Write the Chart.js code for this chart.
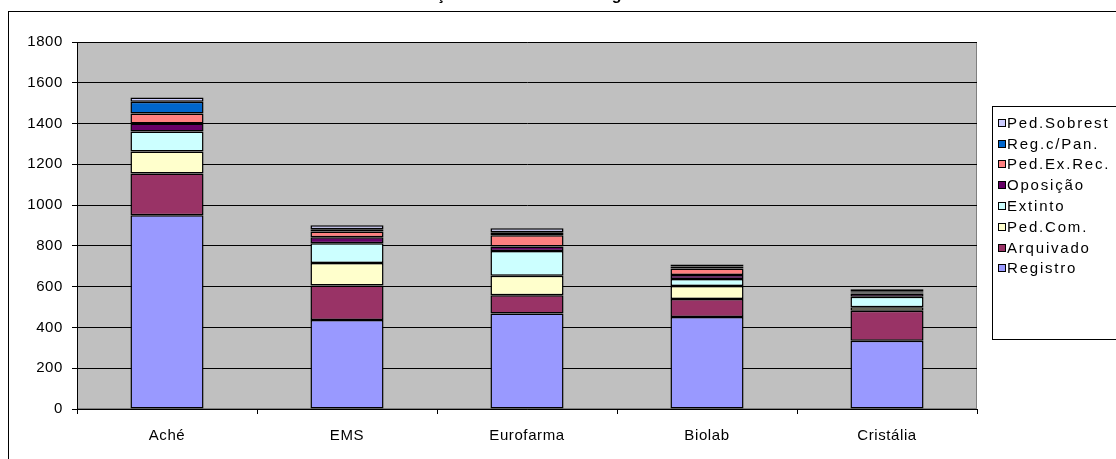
<!DOCTYPE html>
<html>
<head>
<meta charset="utf-8">
<script src="https://cdn.jsdelivr.net/npm/chart.js@4"></script>
<style>
  body { margin: 0; background: #fff; }
</style>
</head>
<body>
<canvas id="chart" width="1116" height="459"></canvas>
<script>
const titleText = 'Situação dos Pedidos de Registro';
const categories = ['Aché', 'EMS', 'Eurofarma', 'Biolab', 'Cristália'];
const registro   = [950, 437, 468, 451, 335];
const arquivado  = [205, 169, 90, 89, 147];
const pedCom     = [108, 110, 95, 63, 17];
const extinto    = [98, 97, 122, 35, 52];
const oposicao   = [39, 29, 22, 19, 15];
const pedExRec   = [49, 29, 55, 32, 5];
const regCPan    = [58, 10, 15, 10, 6];
const pedSobrest = [21, 20, 20, 10, 10];

const FONT = 'Arial, "Liberation Sans", sans-serif';

function series(label, data, color) {
    return {
        label: label,
        data: data,
        backgroundColor: color,
        borderColor: '#000',
        borderWidth: 1.5,
        borderSkipped: false,
        barPercentage: 0.406,
        categoryPercentage: 1
    };
}

// background, plot frame, title and legend box (Excel look)
const excelLook = {
    id: 'excelLook',
    beforeLayout(chart) {
        chart.ctx.letterSpacing = '0.6px';
    },
    beforeDraw(chart) {
        const { ctx, chartArea: a } = chart;
        ctx.save();
        ctx.fillStyle = '#fff';
        ctx.fillRect(0, 0, chart.width, chart.height);
        ctx.fillStyle = '#c0c0c0';
        ctx.fillRect(a.left, a.top, a.width, a.height);
        ctx.strokeStyle = '#808080';
        ctx.lineWidth = 1;
        ctx.strokeRect(a.left + 0.5, a.top + 0.5, a.width - 1, a.height - 1);
        ctx.strokeStyle = '#000';
        ctx.strokeRect(8.5, 11.5, 1300, 700);
        ctx.restore();
        ctx.letterSpacing = '0.6px';
    },
    afterDraw(chart) {
        const ctx = chart.ctx;
        ctx.save();
        // title (mostly cut off at the top edge)
        ctx.letterSpacing = '0px';
        ctx.font = 'bold 16px ' + FONT;
        ctx.fillStyle = '#000';
        ctx.textBaseline = 'alphabetic';
        ctx.textAlign = 'left';
        const pre = ctx.measureText('Situa').width;
        const cw = ctx.measureText('ç').width;
        ctx.fillText(titleText, 441 - pre - cw / 2, 0);

        // legend
        ctx.fillStyle = '#fff';
        ctx.fillRect(992.5, 106.5, 200, 233);
        ctx.strokeStyle = '#000';
        ctx.lineWidth = 1;
        ctx.strokeRect(992.5, 106.5, 200, 233);
        ctx.font = '15px ' + FONT;
        ctx.letterSpacing = '1.8px';
        ctx.textBaseline = 'middle';
        const ds = chart.data.datasets.slice().reverse();
        ds.forEach((d, i) => {
            const y = Math.round(122.7 + i * 20.8);
            ctx.fillStyle = d.backgroundColor;
            ctx.fillRect(998.5, y - 3.5, 7, 7);
            ctx.strokeStyle = '#000';
            ctx.strokeRect(998.5, y - 3.5, 7, 7);
            ctx.fillStyle = '#000';
            ctx.fillText(d.label, 1007, y + 1);
        });
        ctx.restore();
    }
};

const ctx = document.getElementById('chart').getContext('2d');
const chart = new Chart(ctx, {
    type: 'bar',
    data: {
        labels: categories,
        datasets: [
            series('Registro', registro, '#9999ff'),
            series('Arquivado', arquivado, '#993366'),
            series('Ped.Com.', pedCom, '#ffffcc'),
            series('Extinto', extinto, '#ccffff'),
            series('Oposição', oposicao, '#660066'),
            series('Ped.Ex.Rec.', pedExRec, '#ff8080'),
            series('Reg.c/Pan.', regCPan, '#0066cc'),
            series('Ped.Sobrest', pedSobrest, '#ccccff')
        ]
    },
    options: {
        responsive: false,
        animation: false,
        layout: { padding: { left: 8, right: 139, top: 42, bottom: 0 } },
        plugins: {
            legend: { display: false },
            title: { display: false },
            tooltip: { enabled: false }
        },
        scales: {
            x: {
                stacked: true,
                grid: { drawOnChartArea: false, drawTicks: true, tickLength: 5, tickColor: '#000', offset: true },
                border: { color: '#000' },
                ticks: { color: '#000', padding: 13, font: { family: FONT, size: 15 } },
                afterFit(scale) { scale.height = 50; }
            },
            y: {
                stacked: true,
                min: 0,
                max: 1800,
                ticks: {
                    stepSize: 200, color: '#000', padding: 9,
                    font: { family: FONT, size: 15 },
                    callback: (v) => String(v)
                },
                grid: { color: '#000', tickLength: 5, tickColor: '#000' },
                border: { color: '#000' },
                afterFit(scale) { scale.width = 69; }
            }
        }
    },
    plugins: [excelLook]
});
</script>
</body>
</html>
